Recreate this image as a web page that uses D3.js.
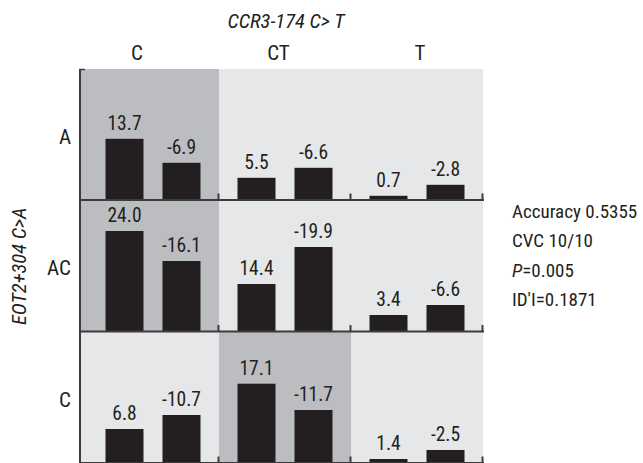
<!DOCTYPE html>
<html><head><meta charset="utf-8">
<script src="https://cdn.jsdelivr.net/npm/d3@7"></script>
<style>
html,body{margin:0;padding:0;background:#fff;}
text{font-family:"Liberation Sans Narrow","Roboto Condensed","DejaVu Sans Condensed","Liberation Sans",sans-serif;fill:#231f20;}
</style></head>
<body><svg id="c" width="643" height="463"></svg>
<script>
// Column genotype (CCR3-174 C>T) and row genotype (EOT2+304 C>A)
const cols = ["C", "CT", "T"];
const rows = ["A", "AC", "C"];
// bar heights (cases, controls) per cell, row-major
const cases    = [[61.7, 22.7, 4.7], [101, 48, 17], [34.5, 79.8, 4.5]];
const controls = [[37.7, 32.7, 15.7], [71, 85, 27], [48.5, 53.5, 13.5]];
// printed labels
const caseLabels    = [["13.7", "5.5", "0.7"], ["24.0", "14.4", "3.4"], ["6.8", "17.1", "1.4"]];
const controlLabels = [["-6.9", "-6.6", "-2.8"], ["-16.1", "-19.9", "-6.6"], ["-10.7", "-11.7", "-2.5"]];
// high-risk cells (dark shading)
const highRisk = [[1, 0, 0], [1, 0, 0], [0, 1, 0]];
const stats = ["Accuracy 0.5355", "CVC 10/10", "P=0.005", "ID'I=0.1871"];

const svg = d3.select("#c");
const axisX = 81, gridTop = 69, gridBottom = 463.5, gridRight = 483;
const x = d3.scaleBand().domain(cols).range([87, gridRight]);
const y = d3.scaleBand().domain(rows).range([gridTop, gridBottom]);
const rowH = y.bandwidth();
const inner = d3.scaleBand().domain(["case", "control"]).range([0, x.bandwidth()])
  .paddingInner(19 / 57).paddingOuter(18.5 / 57);
const h = d3.scaleLinear().domain([0, rowH]).range([0, rowH]);
const hdr = d3.scalePoint().domain(cols).range([137, 420]);

const cells = [];
rows.forEach((r, i) => cols.forEach((c, j) => cells.push({
  r, c, i, j, hr: highRisk[i][j],
  bars: [{k: "case", v: cases[i][j], t: caseLabels[i][j]},
         {k: "control", v: controls[i][j], t: controlLabels[i][j]}]
})));

// backgrounds
svg.selectAll("rect.bg").data(cells).enter().append("rect")
  .attr("x", d => d.j === 0 ? axisX : x(d.c))
  .attr("width", d => d.j === 0 ? x(d.c) + x.bandwidth() - axisX : x.bandwidth())
  .attr("y", d => y(d.r)).attr("height", rowH)
  .attr("fill", d => d.hr ? "#bcbdc0" : "#e6e7e8");

// bars + labels
const g = svg.selectAll("g.cell").data(cells).enter().append("g")
  .attr("transform", d => `translate(${x(d.c)},${y(d.r) + rowH})`);
g.selectAll("rect").data(d => d.bars).enter().append("rect")
  .attr("x", b => inner(b.k)).attr("width", inner.bandwidth())
  .attr("y", b => -h(b.v)).attr("height", b => h(b.v))
  .attr("fill", "#231f20");
g.selectAll("text").data(d => d.bars).enter().append("text")
  .attr("x", b => inner(b.k) + inner.bandwidth() / 2)
  .attr("y", b => -h(b.v) - 9)
  .attr("text-anchor", "middle").style("font-size", "19.5px")
  .text(b => b.t);

// baselines with ticks
rows.forEach(r => {
  const yb = y(r) + rowH;
  svg.append("line").attr("x1", axisX - 1).attr("x2", gridRight + 1)
    .attr("y1", yb - 0.5).attr("y2", yb - 0.5).attr("stroke", "#3c3c3c").attr("stroke-width", 2);
  cols.forEach(c => {
    const xt = x(c) + x.bandwidth();
    svg.append("line").attr("x1", xt - 0.5).attr("x2", xt - 0.5)
      .attr("y1", yb - 7).attr("y2", yb).attr("stroke", "#3c3c3c").attr("stroke-width", 2);
  });
});
// left axis
svg.append("line").attr("x1", axisX - 1).attr("x2", axisX - 1)
  .attr("y1", gridTop).attr("y2", gridBottom).attr("stroke", "#3c3c3c").attr("stroke-width", 2);
svg.append("line").attr("x1", axisX - 2).attr("x2", axisX + 4)
  .attr("y1", gridTop + 0.5).attr("y2", gridTop + 0.5).attr("stroke", "#3c3c3c").attr("stroke-width", 1.5);

// column headers
svg.selectAll("text.hdr").data(cols).enter().append("text")
  .attr("x", c => hdr(c)).attr("y", 60).attr("text-anchor", "middle")
  .style("font-size", "21px").text(c => c);
// row labels
svg.selectAll("text.rl").data(rows).enter().append("text")
  .attr("x", 71).attr("y", r => y(r) + rowH / 2 + 9).attr("text-anchor", "end")
  .style("font-size", "21px").text(r => r);

// titles
svg.append("text").attr("x", 286).attr("y", 28).attr("text-anchor", "middle")
  .style("font-size", "20.5px").style("font-style", "italic").text("CCR3-174 C> T");
svg.append("text").attr("transform", `translate(26,${y("AC") + rowH / 2}) rotate(-90)`)
  .attr("text-anchor", "middle").style("font-size", "20.5px").style("font-style", "italic")
  .text("EOT2+304 C>A");

// stats
const st = svg.append("g").attr("transform", "translate(512,0)");
stats.forEach((s, i) => {
  const t = st.append("text").attr("x", 0).attr("y", 218 + i * 29.3).style("font-size", "19px");
  if (s.startsWith("P=")) {
    t.append("tspan").style("font-style", "italic").text("P");
    t.append("tspan").text(s.slice(1));
  } else t.text(s);
});
</script></body></html>
